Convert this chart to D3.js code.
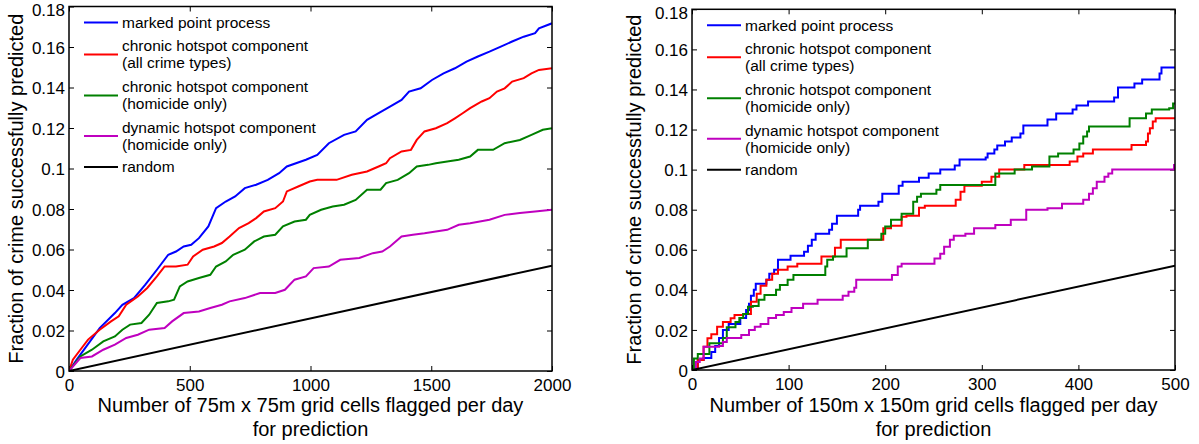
<!DOCTYPE html>
<html>
<head>
<meta charset="utf-8">
<script src="https://cdn.jsdelivr.net/npm/d3@7"></script>
<style>
  html, body { margin: 0; padding: 0; background: #fff; }
  svg { display: block; font-family: "Liberation Sans", Arial, Helvetica, sans-serif; }
</style>
</head>
<body>
<svg id="chart" width="1199" height="444"></svg>
<script>
// ---------------- data ----------------
const yTicks = [0, 0.02, 0.04, 0.06, 0.08, 0.1, 0.12, 0.14, 0.16, 0.18];
const yTickLabels = ["0", "0.02", "0.04", "0.06", "0.08", "0.1", "0.12", "0.14", "0.16", "0.18"];
const xTicksLeft = [0, 500, 1000, 1500, 2000];
const xTicksRight = [0, 100, 200, 300, 400, 500];
const yTitle = "Fraction of crime successfully predicted";
const xTitleLeft = ["Number of 75m x 75m grid cells flagged per day", "for prediction"];
const xTitleRight = ["Number of 150m x 150m grid cells flagged per day", "for prediction"];
const legendLabels = [
  ["marked point process"],
  ["chronic hotspot component", "(all crime types)"],
  ["chronic hotspot component", "(homicide only)"],
  ["dynamic hotspot component", "(homicide only)"],
  ["random"]
];
const seriesColors = ["#0000ff", "#ff0000", "#008000", "#bf00bf", "#000000"];

// Left panel (75m cells), x = cells flagged, y = fraction predicted
const leftMarked = [[0,0],[32,0.0056],[127,0.0212],[190,0.0286],[221,0.0327],[269,0.036],[316,0.0426],[364,0.050],[411,0.0574],[443,0.059],[475,0.0615],[506,0.0623],[538,0.0656],[577,0.0714],[609,0.0804],[649,0.0837],[688,0.0862],[728,0.0903],[775,0.092],[823,0.0944],[870,0.0977],[902,0.101],[981,0.1043],[1028,0.1067],[1076,0.1125],[1139,0.1166],[1187,0.1183],[1234,0.124],[1282,0.1273],[1329,0.1306],[1377,0.1339],[1408,0.138],[1456,0.1396],[1503,0.1437],[1551,0.147],[1598,0.1495],[1646,0.1528],[1693,0.1553],[1741,0.1577],[1788,0.1602],[1835,0.1627],[1883,0.1651],[1930,0.1668],[1946,0.1692],[2000,0.1717]];
const leftChronicAll = [[0,0],[16,0.0056],[47,0.0105],[79,0.0155],[127,0.0204],[174,0.0245],[206,0.027],[237,0.0327],[285,0.0368],[324,0.041],[364,0.0467],[396,0.0516],[443,0.0516],[491,0.0525],[514,0.0566],[554,0.0599],[601,0.0615],[633,0.0632],[665,0.0664],[704,0.0706],[744,0.073],[775,0.0755],[807,0.0788],[854,0.0804],[886,0.0837],[902,0.0887],[949,0.0911],[997,0.0936],[1028,0.0944],[1108,0.0944],[1171,0.0969],[1234,0.0985],[1282,0.101],[1313,0.1026],[1329,0.1051],[1377,0.1084],[1416,0.1092],[1440,0.1141],[1472,0.1183],[1519,0.1199],[1566,0.1224],[1598,0.1248],[1630,0.1273],[1661,0.1298],[1709,0.1331],[1741,0.1347],[1772,0.138],[1804,0.1396],[1835,0.1429],[1883,0.1446],[1915,0.147],[1946,0.1487],[2000,0.1495]];
const leftChronicHom = [[0,0],[47,0.0072],[95,0.0105],[142,0.0146],[190,0.0171],[221,0.0204],[253,0.0229],[300,0.0237],[332,0.0278],[364,0.0336],[411,0.0344],[435,0.0352],[459,0.0418],[491,0.0442],[538,0.0459],[585,0.0475],[609,0.0516],[649,0.0541],[680,0.0574],[728,0.0599],[767,0.064],[807,0.0664],[854,0.0673],[886,0.0714],[934,0.0738],[981,0.0747],[997,0.0771],[1044,0.0796],[1092,0.0812],[1139,0.0821],[1187,0.0845],[1234,0.0895],[1290,0.0895],[1313,0.0928],[1361,0.0944],[1408,0.0977],[1440,0.101],[1487,0.1018],[1519,0.1026],[1566,0.1035],[1614,0.1043],[1661,0.1059],[1693,0.1092],[1756,0.1092],[1804,0.1125],[1867,0.1141],[1915,0.1166],[1962,0.1191],[2000,0.1199]];
const leftDynamic = [[0,0],[47,0.0064],[95,0.0072],[142,0.0105],[190,0.013],[237,0.0163],[285,0.0179],[332,0.0204],[396,0.0212],[427,0.0245],[475,0.0286],[538,0.0294],[585,0.0311],[633,0.0327],[665,0.0344],[728,0.036],[791,0.0385],[854,0.0385],[894,0.0401],[934,0.0451],[981,0.0467],[1013,0.0508],[1076,0.0516],[1123,0.0549],[1202,0.0558],[1258,0.0582],[1297,0.059],[1329,0.0615],[1377,0.0664],[1424,0.0673],[1472,0.068],[1519,0.0689],[1566,0.0697],[1614,0.0722],[1661,0.073],[1741,0.0747],[1804,0.0771],[1867,0.078],[1930,0.0788],[2000,0.0796]];
const leftRandom = [[0,0],[2000,0.052]];

// Right panel (150m cells), step functions: [x where step occurs, new value]
const rightMarked = [[0,0],[6,0.005],[12,0.006],[20,0.009],[24,0.012],[28,0.016],[32,0.02],[38,0.023],[50,0.026],[56,0.03],[59,0.033],[61,0.037],[64,0.04],[66,0.043],[77,0.045],[80,0.048],[85,0.05],[89,0.055],[102,0.057],[116,0.059],[120,0.062],[124,0.065],[128,0.068],[142,0.07],[145,0.073],[150,0.077],[172,0.08],[174,0.082],[193,0.084],[197,0.088],[214,0.092],[218,0.094],[235,0.096],[245,0.098],[257,0.1],[272,0.102],[277,0.105],[304,0.106],[306,0.108],[313,0.11],[316,0.112],[324,0.114],[331,0.116],[340,0.118],[343,0.122],[368,0.125],[377,0.128],[394,0.13],[398,0.132],[410,0.134],[437,0.136],[441,0.141],[458,0.143],[466,0.145],[484,0.148],[486,0.151],[500,0.151]];
const rightChronicAll = [[0,0],[6,0.005],[12,0.0116],[16,0.0158],[20,0.0178],[26,0.0216],[32,0.024],[40,0.0258],[44,0.0275],[53,0.028],[61,0.034],[67,0.038],[71,0.042],[77,0.045],[83,0.048],[89,0.05],[99,0.0516],[109,0.053],[134,0.0566],[148,0.061],[154,0.065],[198,0.0707],[206,0.072],[217,0.0765],[222,0.077],[235,0.081],[241,0.082],[273,0.085],[278,0.089],[282,0.092],[300,0.094],[310,0.0965],[318,0.1],[344,0.1023],[391,0.104],[399,0.1065],[405,0.108],[415,0.11],[455,0.1123],[470,0.114],[472,0.118],[474,0.1206],[477,0.124],[480,0.1256],[500,0.1256]];
const rightChronicHom = [[0,0],[2,0.0058],[6,0.008],[18,0.0133],[32,0.016],[36,0.0213],[45,0.024],[49,0.026],[53,0.028],[58,0.0316],[63,0.032],[69,0.035],[75,0.0374],[87,0.04],[91,0.0424],[99,0.045],[105,0.0474],[138,0.0516],[140,0.055],[146,0.0566],[160,0.0607],[182,0.065],[196,0.068],[200,0.0716],[206,0.075],[217,0.078],[229,0.084],[233,0.0865],[237,0.088],[253,0.09],[257,0.0923],[314,0.098],[334,0.1],[352,0.1015],[370,0.1065],[379,0.108],[395,0.11],[401,0.113],[405,0.1165],[409,0.119],[411,0.1215],[453,0.1256],[470,0.128],[476,0.13],[494,0.1306],[498,0.133],[500,0.133]];
const rightDynamic = [[0,0],[4,0.004],[8,0.0058],[12,0.0116],[28,0.012],[32,0.014],[36,0.016],[51,0.0175],[59,0.02],[65,0.0216],[71,0.023],[79,0.026],[87,0.0275],[95,0.029],[103,0.031],[115,0.033],[130,0.035],[156,0.037],[162,0.039],[168,0.041],[170,0.045],[207,0.0474],[213,0.0516],[217,0.053],[251,0.0557],[257,0.058],[261,0.0615],[267,0.065],[271,0.067],[283,0.068],[292,0.0707],[314,0.0724],[330,0.075],[346,0.08],[368,0.0807],[383,0.083],[405,0.085],[411,0.088],[415,0.0907],[419,0.094],[427,0.0965],[431,0.098],[435,0.1],[499,0.1023],[500,0.1023]];
const rightRandom = [[0,0],[500,0.052]];

// ---------------- drawing ----------------
const svg = d3.select("#chart");

function drawPanel(cfg) {
  const { left, right, top, bottom, xDomain, xTicks, series, step, xTitle, yTitleX, id } = cfg;
  const x = d3.scaleLinear().domain(xDomain).range([left, right]);
  const y = d3.scaleLinear().domain([0, 0.18]).range([bottom, top]);
  const g = svg.append("g");

  g.append("clipPath").attr("id", "clip" + id)
    .append("rect").attr("x", left).attr("y", top).attr("width", right - left).attr("height", bottom - top);

  // axes (ticks inward, box)
  const tickLen = 5;
  const xb = g.append("g").attr("transform", `translate(0,${bottom})`)
    .call(d3.axisBottom(x).tickValues(xTicks).tickSize(-tickLen).tickPadding(8).tickFormat(d3.format("d")));
  const xt = g.append("g").attr("transform", `translate(0,${top})`)
    .call(d3.axisTop(x).tickValues(xTicks).tickSize(-tickLen).tickFormat(""));
  const yl = g.append("g").attr("transform", `translate(${left},0)`)
    .call(d3.axisLeft(y).tickValues(yTicks).tickSize(-tickLen).tickPadding(4)
      .tickFormat((d, i) => yTickLabels[i]));
  const yr = g.append("g").attr("transform", `translate(${right},0)`)
    .call(d3.axisRight(y).tickValues(yTicks).tickSize(-tickLen).tickFormat(""));
  [xb, xt, yl, yr].forEach(a => {
    a.select(".domain").remove();
    a.selectAll(".tick line").attr("stroke", "#000").attr("stroke-width", 1);
    a.selectAll("text").attr("font-size", 17).attr("fill", "#000")
      .attr("font-family", "'Liberation Sans', Arial, sans-serif");
  });
  yl.selectAll("text").attr("dy", (d) => d >= 0.18 ? "0.55em" : "0.36em");

  // series
  const line = d3.line().x(d => x(d[0])).y(d => y(d[1]))
    .curve(step ? d3.curveStepAfter : d3.curveLinear);
  const plot = g.append("g").attr("clip-path", `url(#clip${id})`);
  series.forEach((s, i) => {
    const isRandom = i === 4;
    plot.append("path").datum(s)
      .attr("d", (isRandom ? d3.line().x(d => x(d[0])).y(d => y(d[1])) : line))
      .attr("fill", "none").attr("stroke", seriesColors[i])
      .attr("stroke-width", 2).attr("stroke-linejoin", "miter");
  });

  // frame
  g.append("rect").attr("x", left).attr("y", top).attr("width", right - left).attr("height", bottom - top)
    .attr("fill", "none").attr("stroke", "#000").attr("stroke-width", 1.5);

  // legend
  const rowCenters = [16, 48, 89, 129.5, 160.5];
  const lg = g.append("g").attr("transform", `translate(${left},${top})`);
  legendLabels.forEach((lines, i) => {
    const cy = rowCenters[i];
    lg.append("line").attr("x1", 15).attr("x2", 49).attr("y1", cy).attr("y2", cy)
      .attr("stroke", seriesColors[i]).attr("stroke-width", 2);
    lines.forEach((t, j) => {
      const ty = lines.length === 1 ? cy : cy + (j === 0 ? -8.5 : 8.5);
      lg.append("text").attr("x", 53).attr("y", ty).attr("dy", "0.35em")
        .attr("font-size", 15.5).attr("fill", "#000").text(t);
    });
  });

  // x title
  const cx = (left + right) / 2;
  xTitle.forEach((t, j) => {
    g.append("text").attr("x", cx).attr("y", 405 + j * 23.5).attr("dy", "0.35em")
      .attr("text-anchor", "middle").attr("font-size", 20).attr("fill", "#000").text(t);
  });
  // y title
  const cyT = (top + bottom) / 2;
  g.append("text").attr("transform", `translate(${yTitleX},${cyT}) rotate(-90)`)
    .attr("dy", "0.35em").attr("text-anchor", "middle").attr("font-size", 20).attr("fill", "#000").text(yTitle);
}

drawPanel({
  id: "L", left: 69, right: 552, top: 6.5, bottom: 371,
  xDomain: [0, 2000], xTicks: xTicksLeft,
  series: [leftMarked, leftChronicAll, leftChronicHom, leftDynamic, leftRandom],
  step: false, xTitle: xTitleLeft, yTitleX: 16
});
drawPanel({
  id: "R", left: 692, right: 1175, top: 9.3, bottom: 370,
  xDomain: [0, 500], xTicks: xTicksRight,
  series: [rightMarked, rightChronicAll, rightChronicHom, rightDynamic, rightRandom],
  step: true, xTitle: xTitleRight, yTitleX: 634
});
</script>
</body>
</html>
